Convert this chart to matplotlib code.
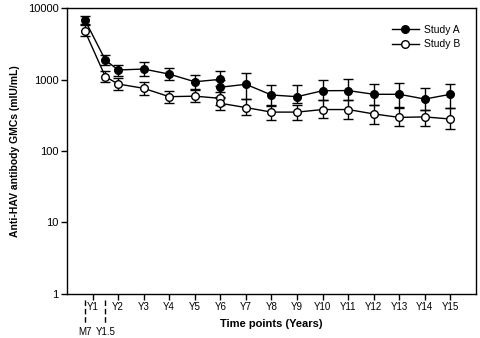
import matplotlib
matplotlib.use("Agg")
import matplotlib.pyplot as plt
import matplotlib.transforms as mtransforms

plt.rcParams['font.family'] = ['Liberation Sans', 'DejaVu Sans']

# Time points (years); two overlapping follow-ups joined at Y6
t_early = [0.7, 1.5, 2, 3, 4, 5, 6]
t_late = [6, 7, 8, 9, 10, 11, 12, 13, 14, 15]

# Study A (filled)
a_early = [6800, 1870, 1360, 1400, 1190, 930, 1005]
a_early_hi = [7700, 2170, 1600, 1770, 1450, 1150, 1320]
a_early_lo = [6000, 1600, 1110, 1110, 980, 730, 800]
a_late = [780, 857, 607, 575, 697, 700, 621, 621, 533, 621]
a_late_hi = [1000, 1250, 840, 840, 1000, 1030, 860, 900, 750, 860]
a_late_lo = [560, 530, 425, 465, 520, 520, 440, 415, 375, 395]

# Study B (open)
b_early = [4770, 1094, 865, 753, 575, 585, 545]
b_early_hi = [5800, 1320, 1060, 910, 700, 710, 660]
b_early_lo = [4000, 910, 710, 610, 470, 480, 440]
b_late = [465, 405, 350, 350, 380, 380, 330, 295, 300, 280]
b_late_hi = [570, 530, 440, 440, 520, 520, 440, 405, 380, 395]
b_late_lo = [380, 320, 275, 270, 285, 280, 240, 225, 225, 205]

xtick_pos = list(range(1, 16))
xtick_labels = ["Y%d" % i for i in range(1, 16)]
extra_pos = [0.7, 1.5]
extra_labels = ["M7", "Y1.5"]

fig = plt.figure(figsize=(4.8, 3.38), dpi=100)
ax = fig.add_axes([0.1396, 0.1302, 0.852, 0.8461])

def draw(t, v, hi, lo, face, label=None):
    yerr = [[vv - l for vv, l in zip(v, lo)], [h - vv for vv, h in zip(v, hi)]]
    ax.errorbar(t, v, yerr=yerr, fmt='-o', color='black', mfc=face, mec='black',
                ms=5.5, lw=1.0, elinewidth=1.0, capsize=3.5, capthick=1.0,
                label=label, zorder=3)

draw(t_early, a_early, a_early_hi, a_early_lo, 'black', 'Study A')
draw(t_late, a_late, a_late_hi, a_late_lo, 'black')
draw(t_early, b_early, b_early_hi, b_early_lo, 'white', 'Study B')
draw(t_late, b_late, b_late_hi, b_late_lo, 'white')

ax.set_yscale('log')
ax.set_ylim(1, 10000)
ax.set_xlim(0, 16)
ax.set_yticks([1, 10, 100, 1000, 10000])
ax.set_yticklabels(['1', '10', '100', '1000', '10000'], fontsize=8)
ax.yaxis.set_minor_locator(matplotlib.ticker.NullLocator())
ax.set_xticks(xtick_pos)
ax.set_xticklabels(xtick_labels, fontsize=7)
ax.tick_params(axis='both', direction='out', length=4, width=1, pad=2)
for s in ax.spines.values():
    s.set_linewidth(1.0)

trans = mtransforms.blended_transform_factory(ax.transData, ax.transAxes)
for p, lab in zip(extra_pos, extra_labels):
    ax.plot([p, p], [-0.02, -0.10], transform=trans, color='black', lw=1.0,
            ls=(0, (4, 2)), clip_on=False)
    ax.text(p, -0.115, lab, transform=trans, ha='center', va='top', fontsize=7)

ax.set_xlabel('Time points (Years)', fontsize=8, fontweight='bold', labelpad=5)
ax.set_ylabel('Anti-HAV antibody GMCs (mIU/mL)', fontsize=7.5, fontweight='bold', labelpad=6)

h, l = ax.get_legend_handles_labels()
h = [hh[0] for hh in h]
ax.legend(h, l, loc='upper right', frameon=False, fontsize=7.5,
          handlelength=2.6, handletextpad=0.5, labelspacing=0.45,
          bbox_to_anchor=(0.985, 0.975))

fig.savefig('out.png', dpi=100)
